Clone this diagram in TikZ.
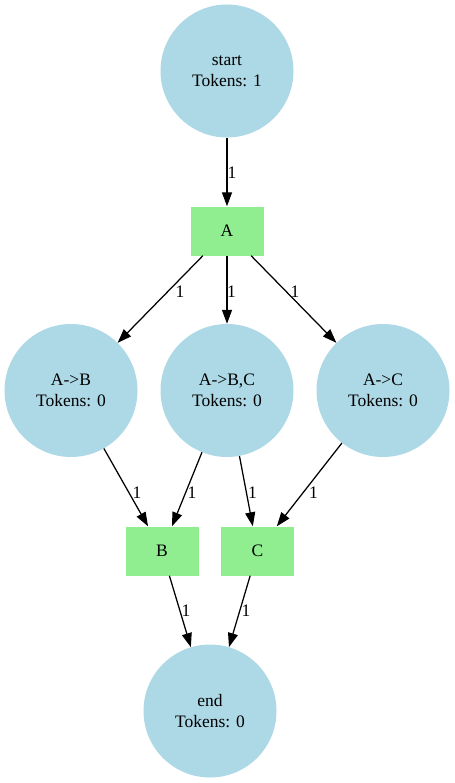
\documentclass[tikz,border=0pt]{standalone}
\usepackage{fontspec}
\setmainfont{Liberation Serif}
\usetikzlibrary{arrows.meta}
\definecolor{placeblue}{HTML}{ADD8E6}
\definecolor{transgreen}{HTML}{90EE90}
\begin{document}
\begin{tikzpicture}[x=1bp,y=-1bp,
  txt/.style={font=\fontsize{17.5bp}{21bp}\selectfont},
  place/.style={circle, fill=placeblue, minimum size=133bp, inner sep=0pt, align=center, txt},
  trans/.style={rectangle, fill=transgreen, minimum width=73bp, minimum height=49bp, inner sep=0pt, txt},
  edge/.style={draw=black, line width=1.25bp, -{Triangle[length=14bp,width=10bp]}},
  lbl/.style={txt, inner sep=0pt}
]
\useasboundingbox (0,0) rectangle (455,783);
\node[place] (start) at (227,71) {start\\Tokens: 1};
\node[trans] (A) at (227,231) {A};
\node[place] (AB) at (71,390.5) {A->B\\Tokens: 0};
\node[place] (ABC) at (227,390.5) {A->B,C\\Tokens: 0};
\node[place] (AC) at (383,390.5) {A->C\\Tokens: 0};
\node[trans] (B) at (162,551) {B};
\node[trans] (C) at (257.5,551) {C};
\node[place] (endp) at (210,711) {end\\Tokens: 0};

\draw[edge] (start) -- (A) node[lbl] (l1) at (232,173) {1};
\draw[edge] (A) -- (AB) node[lbl] (l2) at (180,292) {1};
\draw[edge] (A) -- (ABC) node[lbl] (l3) at (231.5,292) {1};
\draw[edge] (A) -- (AC) node[lbl] (l4) at (295,292) {1};
\draw[edge] (AB) -- (B) node[lbl] (l5) at (137,493) {1};
\draw[edge] (ABC) -- (B) node[lbl] (l6) at (192,493) {1};
\draw[edge] (ABC) -- (C) node[lbl] (l7) at (252.5,493) {1};
\draw[edge] (AC) -- (C) node[lbl] (l8) at (313.5,493) {1};
\draw[edge] (B) -- (endp) node[lbl] (l9) at (186,611) {1};
\draw[edge] (C) -- (endp) node[lbl] (l10) at (246,611) {1};
\end{tikzpicture}
\end{document}
